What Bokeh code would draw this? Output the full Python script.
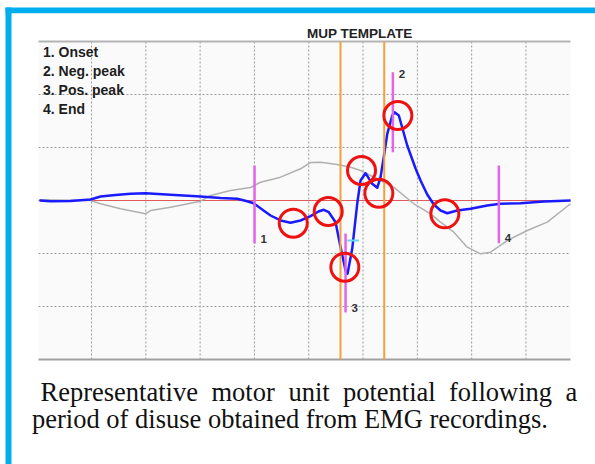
from bokeh.plotting import figure
from bokeh.models import Label
from bokeh.core.properties import value
from bokeh.embed import file_html
from bokeh.resources import INLINE

# ---------------- data (x and y in grid divisions) ----------------
blue_x = [0.042, 0.245, 0.613, 0.982, 1.166, 1.442, 1.718, 1.994, 2.455, 3.007,
          3.376, 3.683, 3.867, 3.983, 4.168, 4.297, 4.481, 4.665, 4.849, 5.033,
          5.180, 5.278, 5.370, 5.494, 5.586, 5.678, 5.715, 5.801, 5.893, 5.954,
          6.046, 6.169, 6.262, 6.322, 6.372, 6.446, 6.538, 6.580, 6.659, 6.814,
          6.967, 7.059, 7.182, 7.304, 7.427, 7.551, 7.735, 7.980, 8.287, 8.532,
          8.901, 9.330, 9.821]
blue_y = [0.0, -0.013, -0.010, 0.019, 0.075, 0.104, 0.126, 0.138, 0.108, 0.075,
          0.047, 0.032, -0.013, -0.051, -0.189, -0.283, -0.377, -0.421, -0.377, -0.296,
          -0.208, -0.175, -0.221, -0.409, -0.881, -1.321, -1.383, -0.906, -0.057, 0.377,
          0.515, 0.315, 0.240, 0.440, 0.755, 1.258, 1.604, 1.666, 1.604, 1.038,
          0.604, 0.377, 0.113, -0.075, -0.189, -0.240, -0.189, -0.157, -0.094, -0.062,
          -0.051, -0.019, 0.0]

gray_x = [0.042, 0.982, 1.166, 1.534, 1.902, 1.994, 2.087, 2.455, 3.007, 3.191,
          3.560, 3.928, 4.112, 4.481, 4.849, 5.033, 5.217, 5.525, 5.770, 5.954,
          6.138, 6.562, 6.936, 7.243, 7.427, 7.672, 7.919, 8.164, 8.348, 8.656,
          9.024, 9.392, 9.821]
gray_y = [0.013, 0.0, -0.062, -0.157, -0.232, -0.251, -0.189, -0.126, -0.013, 0.094,
          0.189, 0.245, 0.345, 0.440, 0.598, 0.717, 0.723, 0.679, 0.628, 0.566,
          0.472, 0.251, -0.062, -0.251, -0.409, -0.598, -0.881, -1.006, -0.975, -0.755,
          -0.566, -0.409, -0.062]

circle_x = [4.715, 5.359, 5.665, 5.972, 6.291, 6.641, 7.506]
circle_y = [-0.428, -0.208, -1.258, 0.566, 0.138, 1.604, -0.251]

marker_x = [4.002, 6.549, 5.678, 8.501]
marker_top = [0.660, 2.421, -0.623, 0.660]
marker_bottom = [-0.811, 0.911, -2.113, -0.806]
marker_labels = ["1", "2", "3", "4"]
marker_label_y = [-0.811, 2.32, -2.113, -0.787]

cursor_x = [5.585, 6.39]          # orange cursors
cyan_x0, cyan_x1, cyan_y = [5.709], [5.923], [-0.755]

# chart window (grid units)
CX0, CX1 = 0.024, 9.82
CY0, CY1 = -3.0, 3.0
grid_x = [1, 2, 3, 4, 5, 6, 7, 8, 9]
grid_y = [-2, -1, 1, 2]

legend_lines = ["1. Onset", "2. Neg. peak", "3. Pos. peak", "4. End"]
title_text = "MUP TEMPLATE"
caption_line1 = ["Representative", "motor", "unit", "potential", "following", "a"]
caption_line2 = "period of disuse obtained from EMG recordings."

# ---------------- layout ----------------
W, H = 595, 464
CHART_L, CHART_T, CHART_W, CHART_H = 38, 41, 532, 318   # page px of chart window
XS = CHART_W / (CX1 - CX0)
YS = CHART_H / (CY1 - CY0)
BASE_SHIFT = 0.34   # text anchor sits ~0.34 em above the wanted baseline


def dx(px):   # page pixel -> data x (layout helpers for text/decoration)
    return CX0 + (px - CHART_L) / XS


def dy(py):   # page pixel -> data y
    return CY1 - (py - CHART_T) / YS


def text_label(px, baseline_py, text, font, size, color, bold=False):
    return Label(x=dx(px), y=dy(baseline_py - BASE_SHIFT * size), text=text,
                 text_font=font, text_font_style="bold" if bold else "normal",
                 text_font_size=f"{size}px", text_color=color, text_baseline="alphabetic")


p = figure(width=W, height=H, output_backend="svg", toolbar_location=None,
           x_range=(dx(0), dx(W)), y_range=(dy(H), dy(0)),
           x_axis_location=None, y_axis_location=None, title=None,
           min_border=0)
p.background_fill_color = "white"
p.border_fill_color = "white"
p.outline_line_color = None
p.xgrid.visible = False
p.ygrid.visible = False

# chart background
p.quad(left=[CX0], right=[CX1], bottom=[CY0], top=[CY1], fill_color="#fafafa", line_color=None)

# dotted grid
p.segment(x0=grid_x, y0=[CY0] * len(grid_x), x1=grid_x, y1=[CY1] * len(grid_x),
          line_color="#9a9a9a", line_dash="2 2", line_width=1)
p.segment(x0=[CX0] * len(grid_y), y0=grid_y, x1=[CX1] * len(grid_y), y1=grid_y,
          line_color="#9a9a9a", line_dash="2 2", line_width=1)

# top / bottom rules
p.segment(x0=[CX0], y0=[CY1], x1=[CX1], y1=[CY1], line_color="#b4b4b4", line_width=2)
p.segment(x0=[CX0], y0=[CY0], x1=[CX1], y1=[CY0], line_color="#a0a0a0", line_width=2)

# baseline
p.segment(x0=[CX0], y0=[0], x1=[CX1], y1=[0], line_color="#e05a5a", line_width=1)

# traces
p.line(gray_x, gray_y, line_color="#b0b0b0", line_width=1.5)
p.line(blue_x, blue_y, line_color="#1a1aff", line_width=2.5, line_join="round")

# orange cursors
p.segment(x0=cursor_x, y0=[CY0] * 2, x1=cursor_x, y1=[CY1] * 2,
          line_color="#f5a03c", line_width=2)

# magenta markers
p.segment(x0=marker_x, y0=marker_bottom, x1=marker_x, y1=marker_top,
          line_color="#e066e6", line_width=2.5)
p.segment(x0=cyan_x0, y0=cyan_y, x1=cyan_x1, y1=cyan_y, line_color="#66d9f0", line_width=2)
p.text(x=marker_x, y=marker_label_y, text=marker_labels, x_offset=6, y_offset=-4,
       text_font=value("Liberation Sans"), text_font_style="bold",
       text_font_size="11.5px", text_color="#333333", text_baseline="alphabetic")

# red circles
p.scatter(circle_x, circle_y, marker="circle", size=28, fill_color=None,
          line_color="#ee1111", line_width=3)

# legend-like text inside the chart
for i, t in enumerate(legend_lines):
    p.add_layout(text_label(42.5, 56 + 19 * i, t, "Liberation Sans", 14, "#1e1e1e", bold=True))

# title
p.add_layout(text_label(306.5, 37.5, title_text, "Liberation Sans", 13.5, "#222222", bold=True))

# caption (justified first line: evenly spaced words)
word_px = [40, 211, 288, 342.5, 448.5, 565]
for w, px in zip(caption_line1, word_px):
    p.add_layout(text_label(px, 400.7, w, "Liberation Serif", 26.5, "#111111"))
p.add_layout(text_label(31.5, 427.3, caption_line2, "Liberation Serif", 26.5, "#111111"))

# blue frame
p.quad(left=[dx(5)], right=[dx(11)], bottom=[dy(H + 5)], top=[dy(7)],
       fill_color="#00aeef", line_color=None)
p.quad(left=[dx(5)], right=[dx(W + 5)], bottom=[dy(12.7)], top=[dy(7)],
       fill_color="#00aeef", line_color=None)

open("out.html", "w").write(file_html(p, INLINE))
